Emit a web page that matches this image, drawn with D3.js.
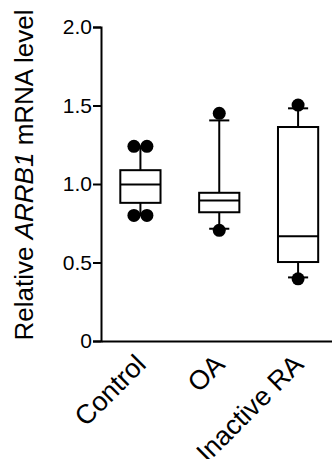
<!DOCTYPE html>
<html>
<head>
<meta charset="utf-8">
<script src="https://cdn.jsdelivr.net/npm/d3@7"></script>
<style>
  body { margin: 0; background: #fff; }
  svg { display: block; font-family: "Liberation Sans", Arial, sans-serif; }
</style>
</head>
<body>
<svg></svg>
<script>
// groups and box stats
var groups = ["Control", "OA", "Inactive RA"]
var whiskerLow = [0.80, 0.715, 0.405]
var q1 = [0.88, 0.82, 0.503]
var median = [0.997, 0.895, 0.667]
var q3 = [1.088, 0.944, 1.363]
var whiskerHigh = [1.24, 1.405, 1.482]
// individual points drawn beyond / at whiskers
var points = [
     [0.80, 0.80, 1.24, 1.24],
     [0.705, 1.45],
     [0.396, 1.503]
]
var yTicks = [0, 0.5, 1.0, 1.5, 2.0]

var width = 332, height = 459

var svg = d3.select("svg").attr("width", width).attr("height", height)

var y = d3.scaleLinear().domain([0, 2]).range([341, 27])
var x = d3.scaleBand().domain(groups).range([101, 337.5])
     .paddingInner(0.49).paddingOuter(0.245)

// y axis
var yAxis = svg.append("g")
     .attr("transform", "translate(101,0)")
     .call(d3.axisLeft(y).tickValues(yTicks).tickSize(8).tickPadding(1)
          .tickFormat(function(d){ return d === 0 ? "0" : d3.format(".1f")(d) }))
yAxis.select(".domain").attr("stroke-width", 2)
yAxis.selectAll(".tick line").attr("stroke-width", 2)
yAxis.selectAll("text").attr("font-size", 21).attr("font-family", "Liberation Sans, Arial, sans-serif").attr("fill", "#000")

// x axis, no tick marks
var xAxis = svg.append("g")
     .attr("transform", "translate(0,341)")
     .call(d3.axisBottom(x).tickSize(0).tickPadding(0).tickSizeOuter(0))
xAxis.select(".domain").attr("stroke-width", 2)
xAxis.selectAll("text")
     .attr("font-size", 27)
     .attr("font-family", "Liberation Sans, Arial, sans-serif")
     .attr("fill", "#000")
     .attr("text-anchor", "end")
     .attr("dy", 0)
     .attr("transform", "translate(7,25) rotate(-45)")

// y title
var title = svg.append("text")
     .attr("transform", "translate(33,175) rotate(-90)")
     .attr("text-anchor", "middle")
     .attr("font-size", 26)
     .attr("fill", "#000")
title.append("tspan").text("Relative ")
title.append("tspan").attr("font-style", "italic").text("ARRB1")
title.append("tspan").text(" mRNA level")

var bw = x.bandwidth()
var boxes = svg.append("g").attr("class", "boxes")
     .selectAll("g").data(groups).enter().append("g")

boxes.append("line")
     .attr("x1", function(d){ return x(d) + bw/2 }).attr("x2", function(d){ return x(d) + bw/2 })
     .attr("y1", function(d, i){ return y(whiskerHigh[i]) })
     .attr("y2", function(d, i){ return y(whiskerLow[i]) })
     .attr("stroke", "#000").attr("stroke-width", 2)

boxes.selectAll(".cap").data(function(d, i){ return [[d, whiskerLow[i]], [d, whiskerHigh[i]]] })
     .enter().append("line").attr("class", "cap")
     .attr("x1", function(d){ return x(d[0]) + bw/4 }).attr("x2", function(d){ return x(d[0]) + bw*3/4 })
     .attr("y1", function(d){ return y(d[1]) }).attr("y2", function(d){ return y(d[1]) })
     .attr("stroke", "#000").attr("stroke-width", 2)

boxes.append("rect")
     .attr("x", function(d){ return x(d) })
     .attr("y", function(d, i){ return y(q3[i]) })
     .attr("width", bw)
     .attr("height", function(d, i){ return y(q1[i]) - y(q3[i]) })
     .attr("fill", "#fff").attr("stroke", "#000").attr("stroke-width", 2)

boxes.append("line")
     .attr("x1", function(d){ return x(d) }).attr("x2", function(d){ return x(d) + bw })
     .attr("y1", function(d, i){ return y(median[i]) })
     .attr("y2", function(d, i){ return y(median[i]) })
     .attr("stroke", "#000").attr("stroke-width", 2)

// points, equal values spread side by side
var r = 6.5
var dots = []
groups.forEach(function(g, i){
     var counts = d3.rollup(points[i], function(v){ return v.length }, function(v){ return v })
     var seen = new Map()
     points[i].forEach(function(v){
          var n = counts.get(v), k = seen.get(v) || 0
          seen.set(v, k + 1)
          dots.push({ g: g, v: v, off: (k - (n - 1)/2) * 2 * r })
     })
})
svg.append("g").selectAll("circle").data(dots).enter().append("circle")
     .attr("cx", function(d){ return x(d.g) + bw/2 + d.off })
     .attr("cy", function(d){ return y(d.v) })
     .attr("r", r)
     .attr("fill", "#000")
</script>
</body>
</html>
